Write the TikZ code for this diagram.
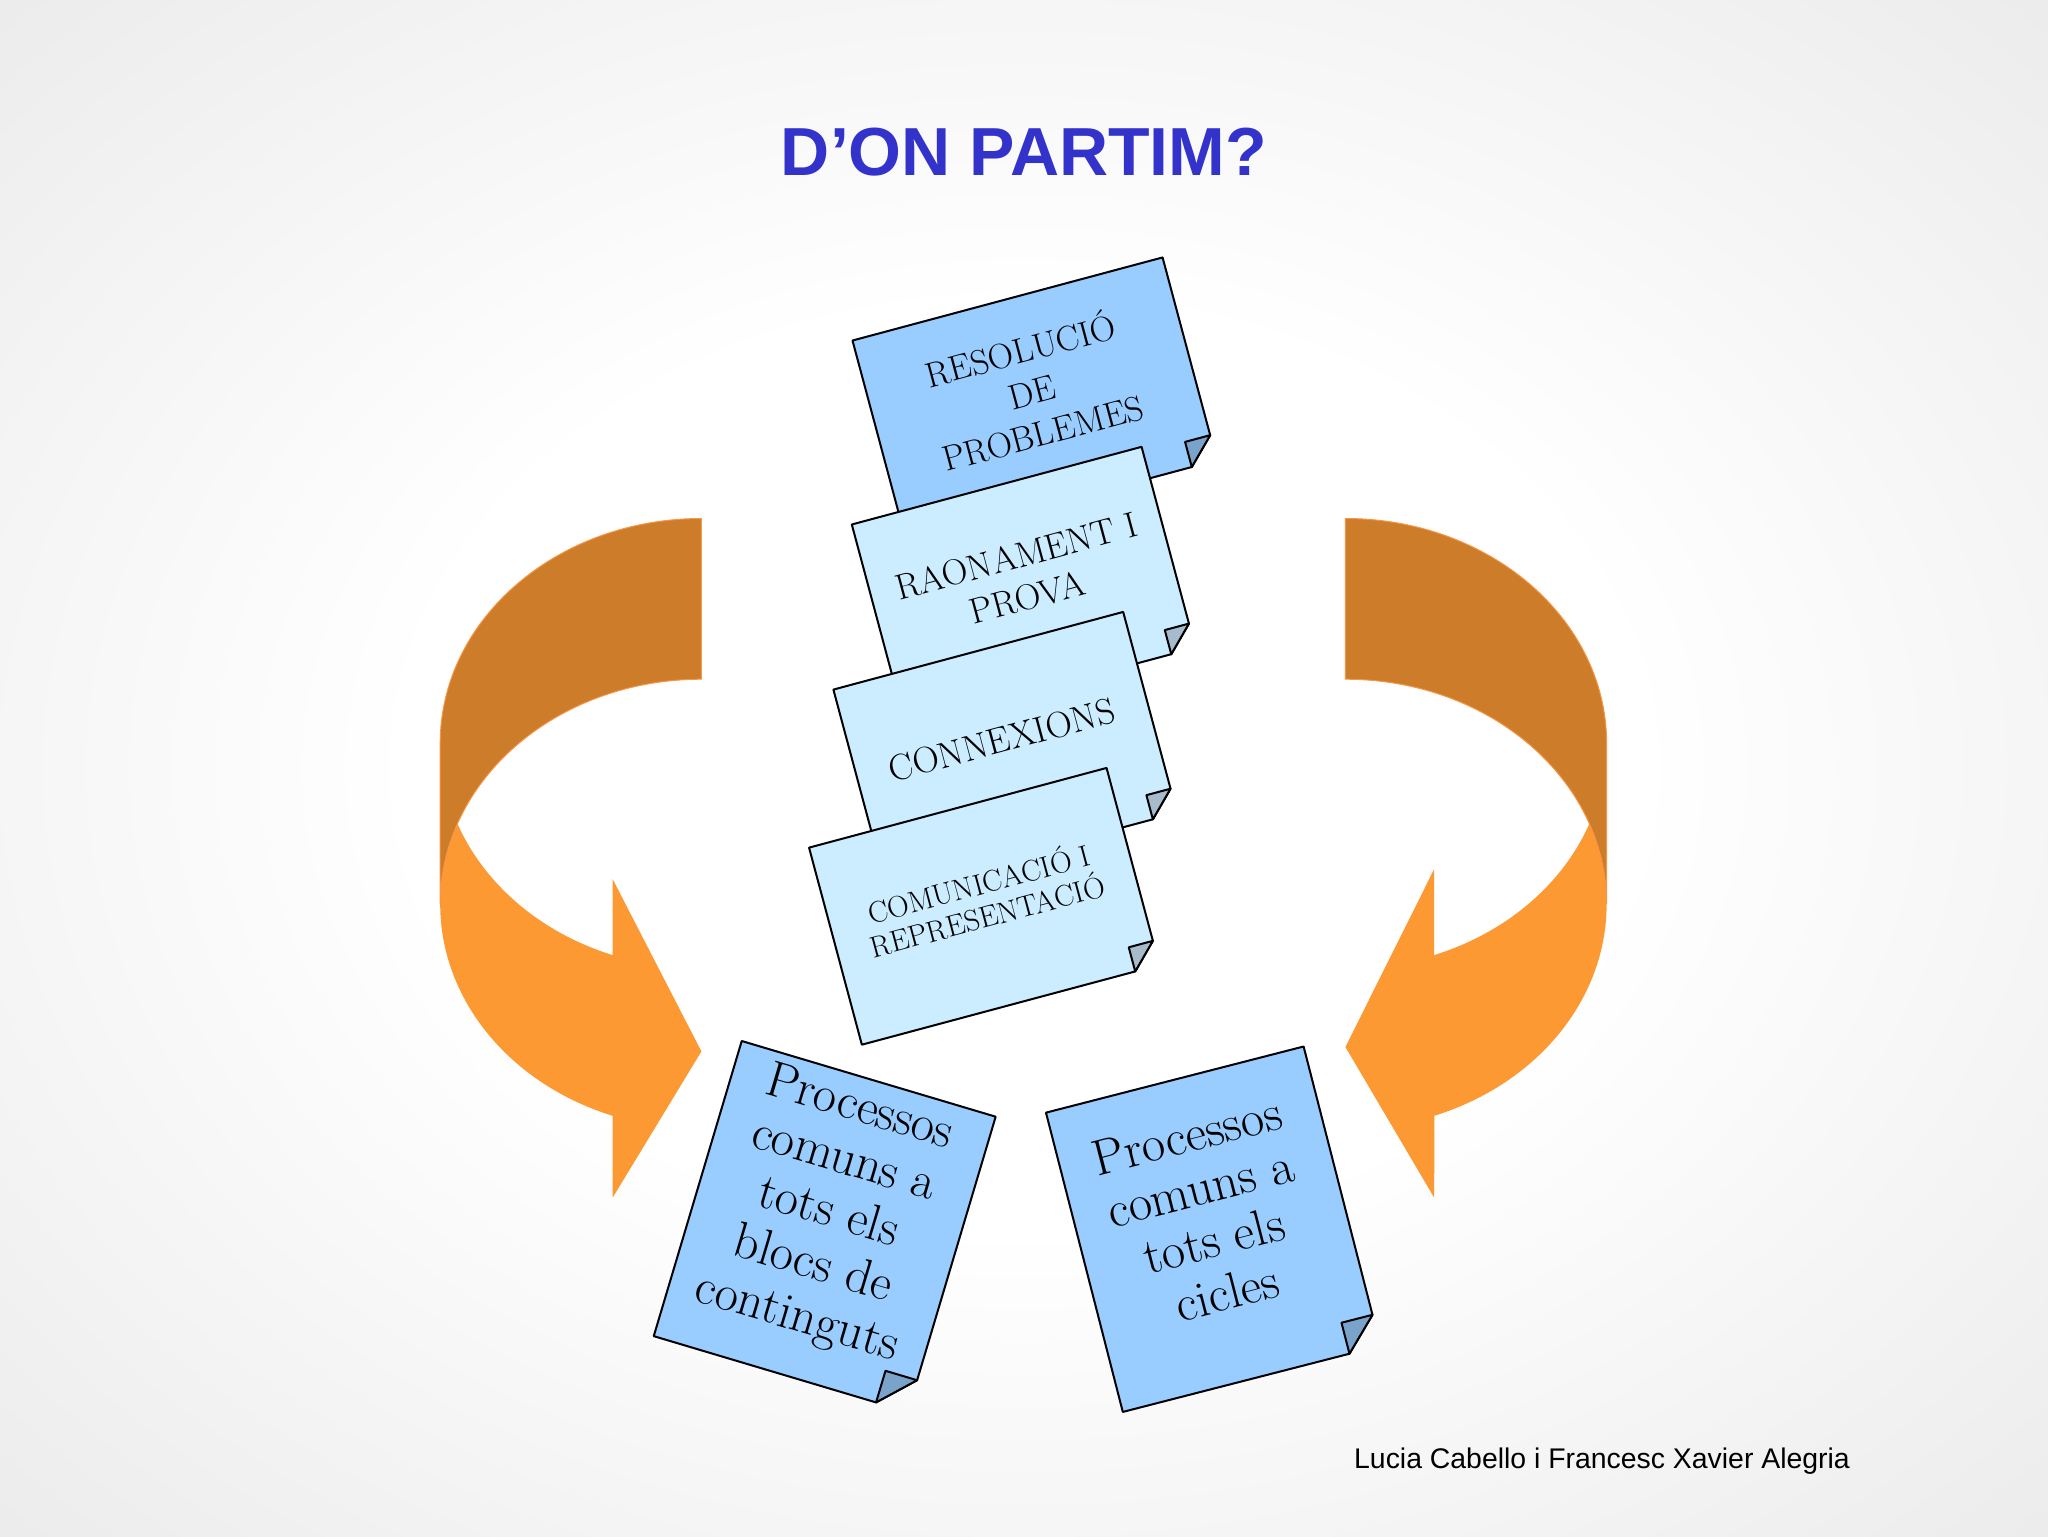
\documentclass[tikz,border=0pt]{standalone}
\usepackage{fontspec}
\newfontfamily\arialfont{Liberation Sans}

\pgfdeclareradialshading{slidebg}{\pgfpoint{0bp}{0bp}}{color(0bp)=(white); color(15bp)=(white); color(50bp)=(black!13); color(72bp)=(black!21)}

\tikzset{every picture/.style={line width=0.75pt}}
\tikzset{
  paper/.style={draw=black, line width=1.5, line join=round},
  darkpaper/.style={paper, fill={rgb, 255:red, 153; green, 204; blue, 255 }},
  lightpaper/.style={paper, fill={rgb, 255:red, 204; green, 236; blue, 255 }},
  darkfold/.style={paper, fill={rgb, 255:red, 122; green, 163; blue, 204 }},
  lightfold/.style={paper, fill={rgb, 255:red, 166; green, 188; blue, 204 }},
  papertext/.style={inner sep=0.75pt, align=center},
}

\begin{document}
\begin{tikzpicture}[x=0.75pt,y=0.75pt,yscale=-1,xscale=1]
\useasboundingbox (0,0) rectangle (2048,1536);

%Background
\fill [shading=slidebg] (0,0) rectangle (2048,1536);

%Shape: Curved Right Arrow [light part]
\draw [draw opacity=0][fill={rgb, 255:red, 252; green, 153; blue, 51 }  ,fill opacity=1 ] (440.2,743.5) -- (440.2,904.2) arc (180:109.9:261.2 and 225) -- (612.6,1197.7) -- (701.4,1051.4) -- (612.6,879) -- (612.6,955.1) arc (109.9:180:261.2 and 225) -- cycle ;
%Shape: Curved Right Arrow [dark part]
\draw [color={rgb, 255:red, 247; green, 150; blue, 70 }  ,draw opacity=1 ][fill={rgb, 255:red, 205; green, 124; blue, 42 }  ,fill opacity=1 ] (701.4,518.5) arc (270:180:261.2 and 225) -- (440.2,904.2) arc (180:270:261.2 and 225) -- cycle ;

%Shape: Curved Left Arrow [light part]
\draw [draw opacity=0][fill={rgb, 255:red, 252; green, 153; blue, 51 }  ,fill opacity=1 ] (1606.6,743.5) -- (1606.6,904.2) arc (0:70.1:261.2 and 225) -- (1434.2,1197.7) -- (1345.4,1047) -- (1434.2,869) -- (1434.2,955.1) arc (70.1:0:261.2 and 225) -- cycle ;
%Shape: Curved Left Arrow [dark part]
\draw [color={rgb, 255:red, 247; green, 150; blue, 70 }  ,draw opacity=1 ][fill={rgb, 255:red, 205; green, 124; blue, 42 }  ,fill opacity=1 ] (1345.4,518.5) arc (-90:0:261.2 and 225) -- (1606.6,904.2) arc (0:-90:261.2 and 225) -- cycle ;

%Shape: Note 1
\begin{scope}[shift={(1034.7,400.4)},rotate=-15]
\draw [darkpaper] (-160.5,-105) -- (160.5,-105) -- (160.5,79) -- (134.5,105) -- (-160.5,105) -- cycle ;
\draw [darkfold] (160.5,79) -- (134.5,79) -- (134.5,105) -- cycle ;
\end{scope}
%Shape: Note 2
\begin{scope}[shift={(1023.6,586.1)},rotate=-15]
\draw [lightpaper] (-150,-104) -- (150,-104) -- (150,79) -- (125,104) -- (-150,104) -- cycle ;
\draw [lightfold] (150,79) -- (125,79) -- (125,104) -- cycle ;
\end{scope}
%Shape: Note 3
\begin{scope}[shift={(1005.2,751.2)},rotate=-15]
\draw [lightpaper] (-150,-104) -- (150,-104) -- (150,79) -- (125,104) -- (-150,104) -- cycle ;
\draw [lightfold] (150,79) -- (125,79) -- (125,104) -- cycle ;
\end{scope}
%Shape: Note 4
\begin{scope}[shift={(984.2,906.3)},rotate=-15]
\draw [lightpaper] (-154,-102) -- (154,-102) -- (154,77) -- (129,102) -- (-154,102) -- cycle ;
\draw [lightfold] (154,77) -- (129,77) -- (129,102) -- cycle ;
\end{scope}
%Shape: Note 5
\begin{scope}[shift={(824.7,1226.4)},rotate=16.6]
\draw [darkpaper] (-132.5,-154) -- (132.5,-154) -- (132.5,121) -- (99.5,154) -- (-132.5,154) -- cycle ;
\draw [darkfold] (132.5,121) -- (99.5,121) -- (99.5,154) -- cycle ;
\end{scope}
%Shape: Note 6
\begin{scope}[shift={(1213.2,1229.2)},rotate=-14.4]
\draw [darkpaper] (-133,-154.5) -- (133,-154.5) -- (133,122.5) -- (101,154.5) -- (-133,154.5) -- cycle ;
\draw [darkfold] (133,122.5) -- (101,122.5) -- (101,154.5) -- cycle ;
\end{scope}

% Text Node
\node (title) [inner sep=0pt, font=\arialfont\bfseries\fontsize{51}{60}\selectfont, text={rgb, 255:red, 51; green, 51; blue, 204 }] at (1024,152) {D’ON PARTIM?};
% Text Node
\node (resol) [papertext, rotate=15, font=\fontsize{26.5}{32}\selectfont] at (1031,389) {RESOLUCIÓ\\DE\\PROBLEMES};
% Text Node
\node (raon) [papertext, rotate=15, font=\fontsize{27}{32}\selectfont] at (1021.7,576.7) {RAONAMENT I\\PROVA};
% Text Node
\node (connex) [papertext, rotate=15, font=\fontsize{27.5}{32}\selectfont] at (1001.7,740) {CONNEXIONS};
% Text Node
\node (comun) [papertext, rotate=15, font=\fontsize{22.5}{25}\selectfont] at (982.5,898) {COMUNICACIÓ I\\REPRESENTACIÓ};
% Text Node
\node (blocs) [papertext, rotate=-16.6, font=\fontsize{38}{41}\selectfont] at (828,1214) {Processos\\comuns a\\tots els\\blocs de\\continguts};
% Text Node
\node (cicles) [papertext, rotate=14.4, font=\fontsize{38}{40.5}\selectfont] at (1207,1214) {Processos\\comuns a\\tots els\\cicles};
% Text Node
\node (autors) [inner sep=0pt, anchor=base, font=\arialfont\fontsize{21.3}{25}\selectfont] at (1602,1468) {Lucia Cabello i Francesc Xavier Alegria};

\end{tikzpicture}
\end{document}
